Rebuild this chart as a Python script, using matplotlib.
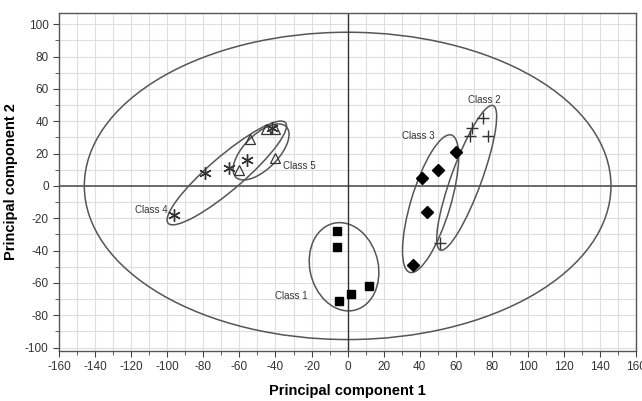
import numpy as np
import matplotlib.pyplot as plt
from matplotlib.patches import Ellipse

plt.rcParams['font.family'] = ['Liberation Sans', 'DejaVu Sans']
plt.rcParams['axes.unicode_minus'] = False

# scores
c1_x = [-6, -6, -5, 2, 12]
c1_y = [-28, -38, -71, -67, -62]
c2_x = [75, 69, 68, 78, 51]
c2_y = [42, 36, 31, 31, -35]
c3_x = [60, 50, 41, 44, 36]
c3_y = [21, 10, 5, -16, -49]
c4_x = [-96, -79, -66, -56, -42]
c4_y = [-18, 8, 11, 16, 36]
c5_x = [-54, -60, -45, -40, -40]
c5_y = [29, 10, 35, 35, 17]

# confidence ellipses: centre x, centre y, width, height, angle
ell_cx = [0, -2, 66, 46, -67, -48]
ell_cy = [0, -50, 5, -11, 8, 21]
ell_w = [292, 38, 94, 88, 90, 42]
ell_h = [190, 55, 17, 22, 20, 20]
ell_a = [0, 10, 72, 75, 44, 50]

labels = ['Class 1', 'Class 2', 'Class 3', 'Class 4', 'Class 5']
lab_x = [-31, 76, 39, -109, -27]
lab_y = [-68, 53, 31, -15, 12]

fig = plt.figure(figsize=(6.42, 4.01), dpi=100)
ax = fig.add_axes([0.092, 0.125, 0.899, 0.843])

ax.set_xlim(-160, 160)
ax.set_ylim(-102, 107)
ax.set_xticks(np.arange(-160, 161, 20))
ax.set_yticks(np.arange(-100, 101, 20))
ax.set_xticks(np.arange(-160, 161, 10), minor=True)
ax.set_yticks(np.arange(-100, 101, 10), minor=True)
ax.grid(True, which='both', color='#dedede', lw=0.8)
ax.set_axisbelow(True)
ax.tick_params(which='both', direction='out', colors='#444444', labelsize=8.5, labelcolor='#333333')
ax.tick_params(which='major', length=4)
ax.tick_params(which='minor', length=3)
for s in ax.spines.values():
    s.set_color('#555555')
    s.set_linewidth(1.0)

ax.axhline(0, color='#555555', lw=1.2)
ax.axvline(0, color='#333333', lw=1.0)

for i in range(len(ell_cx)):
    e = Ellipse((ell_cx[i], ell_cy[i]), ell_w[i], ell_h[i], angle=ell_a[i],
                fill=False, ec='#555555', lw=1.1)
    ax.add_patch(e)

ax.plot(c1_x, c1_y, 's', color='black', ms=6, ls='none')
ax.plot(c2_x, c2_y, '+', color='#333333', ms=8, mew=1.0, ls='none')
ax.plot(c3_x, c3_y, 'D', color='black', ms=6, ls='none')
ax.plot(c4_x, c4_y, marker=(6, 2, 0), color='#333333', ms=9, mew=1.0, ls='none')
ax.plot(c5_x, c5_y, '^', mfc='none', mec='#333333', ms=7, mew=0.9, ls='none')

for i in range(len(labels)):
    ax.text(lab_x[i], lab_y[i], labels[i], fontsize=7, color='#333333',
            ha='center', va='center')

ax.set_xlabel('Principal component 1', fontsize=10.5, fontweight='bold', labelpad=8)
ax.set_ylabel('Principal component 2', fontsize=10.5, fontweight='bold', labelpad=5)

fig.savefig('out.png', dpi=100)
